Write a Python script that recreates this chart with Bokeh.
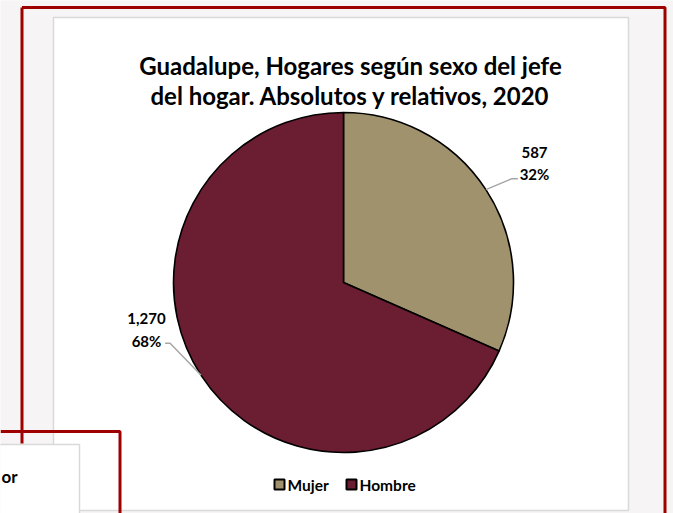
import math
from bokeh.plotting import figure
from bokeh.models import Range1d
from bokeh.core.properties import value
from bokeh.embed import file_html
from bokeh.resources import INLINE

# ---- data ----
categories = ["Mujer", "Hombre"]
values = [587, 1270]
colors = ["#A0926C", "#6B1D31"]
title_lines = ["Guadalupe, Hogares según sexo del jefe",
               "del hogar. Absolutos y relativos, 2020"]

FONT = value("Lato")
W, H = 673, 513


def Y(ys):
    return H - ys


p = figure(width=W, height=H, x_range=Range1d(0, W), y_range=Range1d(0, H),
           output_backend="svg", toolbar_location=None, min_border=0)
p.axis.visible = False
p.grid.visible = False
p.outline_line_color = None
p.background_fill_color = "#F6F4F4"
p.border_fill_color = "#F6F4F4"

# chart area box
p.quad(left=[53], right=[628], top=[Y(17)], bottom=[Y(510)],
       fill_color="white", line_color="#D9D9D9", line_width=1.5)

# title
for i, t in enumerate(title_lines):
    p.text(x=[350], y=[Y(65 + 30 * i)], text=[t], text_font=FONT, text_font_style="bold",
           text_font_size="24px", text_align="center", text_baseline="alphabetic",
           text_color="#000000")

# pie
cx, cy, R = 343, Y(282), 170
total = sum(values)
fracs = [v / total for v in values]
starts, ends, mids = [], [], []
acc = 0.0
for f in fracs:
    a0 = math.pi / 2 - 2 * math.pi * acc
    a1 = math.pi / 2 - 2 * math.pi * (acc + f)
    starts.append(a0)
    ends.append(a1)
    mids.append((a0 + a1) / 2)
    acc += f

p.wedge(x=[cx] * len(values), y=[cy] * len(values), radius=R,
        start_angle=starts, end_angle=ends, direction="clock",
        fill_color=colors, line_color="black", line_width=1.6)

# data labels with leader lines
label_pos = [(534, 152, 173, 26, -11, 6), (146, 318, 340, -31, -32, -5)]
for i, v in enumerate(values):
    lx, y1, y2, ex, ey, hx = label_pos[i]
    px = cx + R * math.cos(mids[i])
    py = cy + R * math.sin(mids[i])
    ptsx = [px, px + ex, px + ex + hx]
    ptsy = [py, py - ey, py - ey]
    p.line(ptsx, ptsy, line_color="#A6A6A6", line_width=1.5)
    p.text(x=[lx, lx], y=[Y(y1), Y(y2)],
           text=[f"{v:,}", f"{round(100 * v / total)}%"],
           text_font=FONT, text_font_style="bold", text_font_size="15px",
           text_align="center", text_baseline="middle", text_color="#000000")

# legend
leg_x = [279, 351]
for i, c in enumerate(categories):
    p.rect(x=[leg_x[i]], y=[Y(484)], width=10, height=10, fill_color=colors[i],
           line_color="black", line_width=2)
    p.text(x=[leg_x[i] + 8], y=[Y(484)], text=[c], text_font=FONT,
           text_font_style="bold", text_font_size="15.5px", text_align="left",
           text_baseline="middle", text_color="#000000")

# neighbouring box bottom-left
p.quad(left=[-5], right=[79], top=[Y(444)], bottom=[Y(520)],
       fill_color="white", line_color="#D9D9D9", line_width=1.5)
p.text(x=[1], y=[Y(476)], text=["or"], text_font=FONT, text_font_style="bold",
       text_font_size="17px", text_align="left", text_baseline="middle",
       text_color="#000000")

# red frames
red = "#9E0000"
p.line([21.5, 664.5, 664.5], [Y(7), Y(7), Y(520)], line_color=red, line_width=3)
p.line([21.5, 21.5], [Y(7), Y(443)], line_color=red, line_width=3)
p.line([0, 119.5, 119.5], [Y(431), Y(431), Y(520)], line_color=red, line_width=3)

open("out.html", "w").write(file_html(p, INLINE))
